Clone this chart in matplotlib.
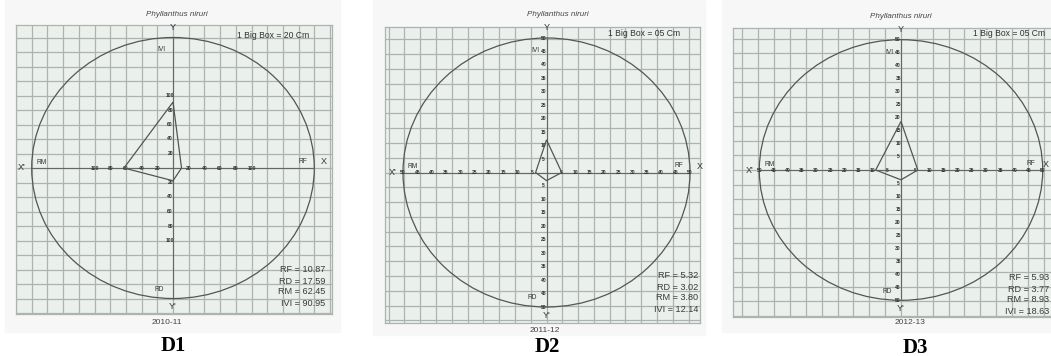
import matplotlib.pyplot as plt
from matplotlib.patches import Circle, Polygon, Rectangle

plt.rcParams["font.family"] = ["Liberation Sans", "DejaVu Sans"]

# values shown in the three polygraphs
years = ["2010-11", "2011-12", "2012-13"]
tags = ["D1", "D2", "D3"]
rf = [10.87, 5.32, 5.93]
rd = [17.59, 3.02, 3.77]
rm = [62.45, 3.80, 8.93]
ivi = [90.95, 12.14, 18.63]
circle_r = [180, 50, 50]
tick_step = [20, 5, 5]
tick_max = [100, 50, 50]
scale_text = ["1 Big Box = 20 Cm", "1 Big Box = 05 Cm", "1 Big Box = 05 Cm"]
species = "Phyllanthus niruri"

W, H = 1051, 356

# pixel layout of each scanned sheet: origin, px per unit, grid edges, grid box (units)
layout = [
    dict(cx=173, cy=168, sx=0.785, sy=0.725, l=16, r=332, t=25, b=314, box=20,
         title=(177, 15), year=(167, 323), tag=(173, 346), scale=(237, 35),
         vals=(325, 270), paper=(5, 0, 340, 332)),
    dict(cx=546.5, cy=172.5, sx=2.87, sy=2.69, l=385, r=700, t=27, b=323, box=5.5,
         title=(558, 15), year=(545, 330), tag=(547, 347), scale=(608, 33),
         vals=(698, 276), paper=(373, 0, 705, 335)),
    dict(cx=901, cy=170, sx=2.834, sy=2.606, l=733, r=1058, t=28, b=317, box=5.6,
         title=(901, 17), year=(910, 323), tag=(915, 348), scale=(973, 33),
         vals=(1049, 278), paper=(722, 0, 1051, 332)),
]

GRID_BG = "#ebf0ec"
GRID_LN = "#acb4af"
INK = "#555555"


def fx(px):
    return px / W


def fy(py):
    return 1 - py / H


fig = plt.figure(figsize=(W / 100, H / 100), dpi=100, facecolor="white")

for i, p in enumerate(layout):
    # faint scanned paper behind the sheet
    x0, y0, x1, y1 = p["paper"]
    fig.patches.append(Rectangle((fx(x0), fy(y1)), fx(x1 - x0), (y1 - y0) / H,
                                 transform=fig.transFigure, color="#f6f7f6", zorder=-5))

    ax = fig.add_axes([fx(p["l"]), fy(p["b"]), fx(p["r"] - p["l"]), (p["b"] - p["t"]) / H])
    ax.set_zorder(1)
    ax.set_facecolor(GRID_BG)
    x_lo, x_hi = (p["l"] - p["cx"]) / p["sx"], (p["r"] - p["cx"]) / p["sx"]
    y_lo, y_hi = (p["cy"] - p["b"]) / p["sy"], (p["cy"] - p["t"]) / p["sy"]
    ax.set_xlim(x_lo, x_hi)
    ax.set_ylim(y_lo, y_hi)
    ax.set_xticks([])
    ax.set_yticks([])
    for s in ax.spines.values():
        s.set_color(GRID_LN)
        s.set_linewidth(0.9)

    # graph paper
    box = p["box"]
    for k in range(-12, 13):
        ax.axvline(k * box, color=GRID_LN, lw=0.9, zorder=1)
        ax.axhline(k * box, color=GRID_LN, lw=0.9, zorder=1)

    R = circle_r[i]
    ax.add_patch(Circle((0, 0), R, fill=False, ec=INK, lw=0.9, zorder=3))
    ax.plot([-R, R], [0, 0], color="#666666", lw=0.8, zorder=3)
    ax.plot([0, 0], [-R, R], color="#666666", lw=0.8, zorder=3)

    # tick labels along both axes
    step = tick_step[i]
    for v in range(step, tick_max[i] + 1, step):
        for sgn in (-1, 1):
            ax.text(sgn * v, 0, str(v), fontsize=3.6, color="#333333", ha="center",
                    va="center", fontweight="bold", zorder=4)
            ax.text(-0.02 * R, sgn * v, str(v), fontsize=3.6, color="#333333",
                    ha="center", va="center", fontweight="bold", zorder=4)

    # polygraph
    poly = Polygon([(0, ivi[i]), (-rm[i], 0), (0, -rd[i]), (rf[i], 0)], closed=True,
                   fill=False, ec=INK, lw=0.9, zorder=5)
    ax.add_patch(poly)

    lab = dict(fontsize=6.5, color="#333333", ha="center", va="center", zorder=6)
    ax.text(0, 1.075 * R, "Y", **lab)
    ax.text(0, -1.06 * R, "Y'", **lab)
    ax.text(-1.07 * R, 0, "X'", **lab)
    ax.text(min(1.065 * R, (W - 5 - p["cx"]) / p["sx"]), 6 / p["sy"], "X", **lab)
    small = dict(lab, fontsize=4.8)
    ax.text(-0.93 * R, 0.045 * R, "RM", **small)
    ax.text(0.92 * R, 0.05 * R, "RF", **small)
    ax.text(-0.1 * R, -0.93 * R, "RD", **small)
    ax.text(-0.08 * R, 0.905 * R, "IVI", **small)

    sx_, sy_ = p["scale"]
    fig.text(fx(sx_), fy(sy_), scale_text[i], fontsize=6.2, color="#333333",
             ha="left", va="center", zorder=5)

    vx, vy = p["vals"]
    lines = [f"RF = {rf[i]:.2f}", f"RD = {rd[i]:.2f}", f"RM = {rm[i]:.2f}",
             f"IVI = {ivi[i]:.2f}"]
    for j, s in enumerate(lines):
        fig.text(fx(vx), fy(vy + j * 11), s, fontsize=6.6, color="#3a3a3a",
                 ha="right", va="center", zorder=5)

    tx, ty = p["title"]
    fig.text(fx(tx), fy(ty), species, fontsize=5.8, style="italic",
             color="#444444", ha="center", va="center")
    yx, yy = p["year"]
    fig.text(fx(yx), fy(yy), years[i], fontsize=6, color="#444444",
             ha="center", va="center")
    gx, gy = p["tag"]
    fig.text(fx(gx), fy(gy), tags[i], fontsize=15, fontweight="bold",
             family="Liberation Serif", color="black", ha="center", va="center")

fig.savefig("out.png", dpi=100)
